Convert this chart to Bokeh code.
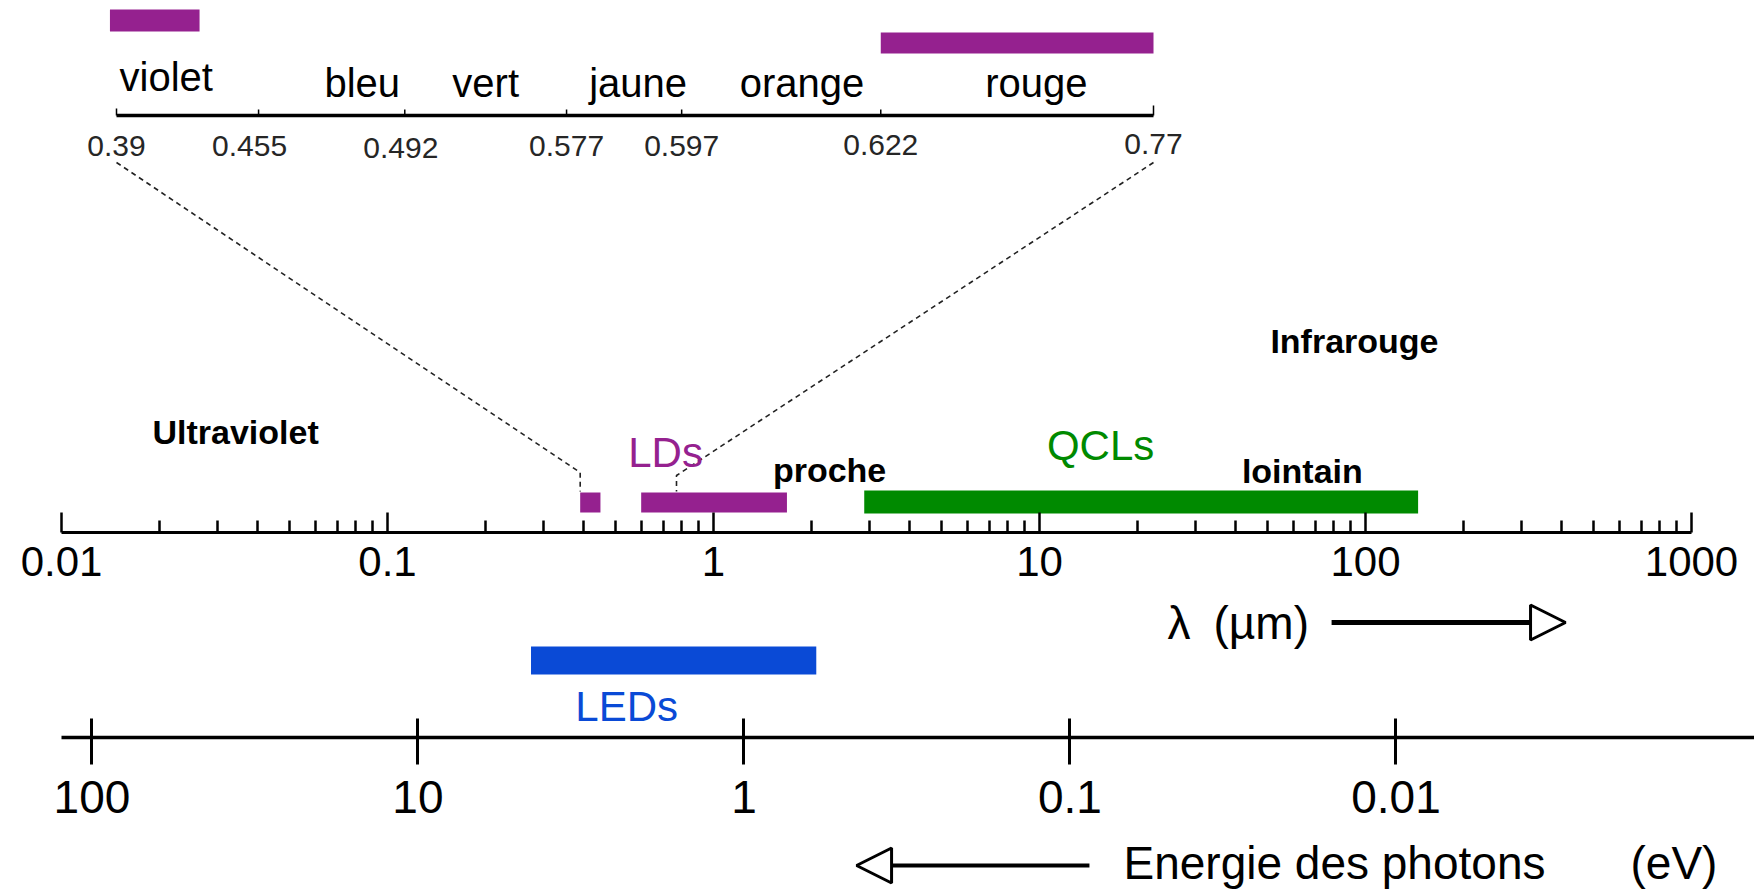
import math
from bokeh.plotting import figure
from bokeh.layouts import column
from bokeh.models import Range1d, LogScale, LinearScale, LogAxis, FixedTicker, Arrow, NormalHead
from bokeh.core.properties import value
from bokeh.embed import file_html
from bokeh.resources import INLINE

# ---------------- data ----------------
lam_ticks = [0.01, 0.1, 1, 10, 100, 1000]
lam_tick_labels = ["0.01", "0.1", "1", "10", "100", "1000"]
ev_ticks = [100, 10, 1, 0.1, 0.01]
ev_tick_labels = ["100", "10", "1", "0.1", "0.01"]
HC = 1.24  # eV * um

inset_ticks = [0.39, 0.455, 0.492, 0.577, 0.597, 0.622, 0.77]
inset_tick_labels = ["0.39", "0.455", "0.492", "0.577", "0.597", "0.622", "0.77"]
colour_names = ["violet", "bleu", "vert", "jaune", "orange", "rouge"]
inset_ld_lo = [0.387, 0.622]
inset_ld_hi = [0.428, 0.77]

ld_lo = [0.39, 0.60]
ld_hi = [0.45, 1.68]
qcl_lo = [2.9]
qcl_hi = [145]
led_ev_hi = [4.5]
led_ev_lo = [0.6]

region_names = ["Ultraviolet", "Infrarouge", "proche", "lointain"]

# ---------------- layout / style ----------------
PURPLE = "#95218F"
GREEN = "#008A00"
BLUE = "#0A4AD6"
FONT = value("Liberation Sans")

W = 1754
FRAME_L = 61          # px of lambda = 0.01
DEC = 326             # px per decade
INSET_L, INSET_R = 116, 1153   # px of the inset axis ends

inset_tick_pos = [0.0, 0.137, 0.278, 0.434, 0.545, 0.737, 1.0]
inset_label_dx = [0, -9, -4, 0, 0, 0, 0]
inset_label_dy = [0, 0, 2, 0, 0, -1, -2]
colour_label_pos = [0.048, 0.237, 0.356, 0.503, 0.661, 0.887]
colour_label_y = [456, 450, 450, 450, 450, 450]
inset_bar_bottom = [501, 479]
inset_bar_top = [523, 500]
region_x = [0.0342, 92.5, 2.27, 64]
region_y = [101, 192, 63, 62]

lam_end = 10 ** (-2 + (W - FRAME_L) / DEC)
LOG_SPAN = math.log10(lam_end / 0.01)


def inset_pos(lam):
    t, p = inset_ticks, inset_tick_pos
    if lam <= t[0]:
        i = 0
    elif lam >= t[-1]:
        i = len(t) - 2
    else:
        i = max(k for k in range(len(t) - 1) if t[k] <= lam)
    return p[i] + (lam - t[i]) * (p[i + 1] - p[i]) / (t[i + 1] - t[i])


inset_lo = -(INSET_L - FRAME_L) / (INSET_R - INSET_L)
inset_hi = inset_lo + (W - FRAME_L) / (INSET_R - INSET_L)


def lam_to_inset(lam):
    frac = (math.log10(lam) + 2) / LOG_SPAN
    return inset_lo + frac * (inset_hi - inset_lo)


def base_fig(height, bottom, frame_h):
    f = figure(width=W, height=height, x_axis_type="log", x_range=Range1d(0.01, lam_end),
               y_range=Range1d(0, frame_h), output_backend="svg", toolbar_location=None,
               min_border_left=FRAME_L, min_border_right=0, min_border_top=0,
               min_border_bottom=bottom, y_axis_location=None)
    f.grid.visible = False
    f.outline_line_color = None
    return f


# ---------------- figure A : inset + wavelength axis ----------------
A_FH = 532
A_BOT = 61
pA = base_fig(A_FH + A_BOT, A_BOT, A_FH)
pA.extra_x_ranges = {"inset": Range1d(inset_lo, inset_hi)}
pA.extra_x_scales = {"inset": LinearScale()}

# inset bars
pA.quad(left=[inset_pos(v) for v in inset_ld_lo], right=[inset_pos(v) for v in inset_ld_hi],
        bottom=inset_bar_bottom, top=inset_bar_top, fill_color=PURPLE, line_color=None,
        x_range_name="inset")
# inset axis
p0, p1 = inset_pos(inset_ticks[0]), inset_pos(inset_ticks[-1])
pA.segment(x0=[p0], y0=[417], x1=[p1], y1=[417], line_width=3.5, line_color="black",
           x_range_name="inset")
tick_top = [424] + [423] * (len(inset_ticks) - 2) + [427]
pA.segment(x0=[inset_pos(v) for v in inset_ticks], y0=[417] * len(inset_ticks),
           x1=[inset_pos(v) for v in inset_ticks], y1=tick_top, line_width=1.5,
           line_color="black", x_range_name="inset")
pA.text(x=[inset_pos(v) for v in inset_ticks], y=[387] * len(inset_ticks), text=inset_tick_labels,
        x_offset=inset_label_dx, y_offset=inset_label_dy,
        text_font=FONT, text_font_size="30px", text_color="#262626", text_align="center",
        text_baseline="middle", x_range_name="inset")
pA.text(x=colour_label_pos, y=colour_label_y, text=colour_names, text_font=FONT,
        text_font_size="40px", text_color="black", text_align="center",
        text_baseline="middle", x_range_name="inset")

# dashed zoom lines
xl = lam_to_inset(inset_ticks[0])
xr = lam_to_inset(inset_ticks[-1])
pA.multi_line(xs=[[p0, xl, xl], [p1, xr, xr]], ys=[[370, 60, 41], [370, 57, 41]],
              line_color="#222222", line_width=1.6, line_dash="5 4", x_range_name="inset")

# emitter bars
pA.quad(left=ld_lo, right=ld_hi, bottom=20, top=40, fill_color=PURPLE, line_color=None)
pA.quad(left=qcl_lo, right=qcl_hi, bottom=19, top=42, fill_color=GREEN, line_color=None)

pA.text(x=[0.713], y=[80], text=["LDs"], text_font=FONT, text_font_size="42px",
        text_color=PURPLE, text_align="center", text_baseline="middle")
pA.text(x=[15.4], y=[87], text=["QCLs"], text_font=FONT, text_font_size="42px",
        text_color=GREEN, text_align="center", text_baseline="middle")
pA.text(x=region_x, y=region_y, text=region_names, text_font=FONT, text_font_size="34px",
        text_font_style="bold", text_color="black", text_align="center",
        text_baseline="middle")

minor = [m * 10 ** k for k in range(-2, 3) for m in range(2, 10)]
ax = pA.xaxis[0]
ax.ticker = FixedTicker(ticks=lam_ticks, minor_ticks=minor)
ax.bounds = (lam_ticks[0], lam_ticks[-1])
ax.major_label_overrides = dict(zip(lam_ticks, lam_tick_labels))
ax.axis_line_width = 3
ax.axis_line_color = "black"
ax.major_tick_in = 20
ax.major_tick_out = 0
ax.minor_tick_in = 12
ax.minor_tick_out = 0
ax.major_tick_line_width = 2.5
ax.minor_tick_line_width = 2.5
ax.major_tick_line_color = "black"
ax.minor_tick_line_color = "black"
ax.major_label_text_font = "Liberation Sans"
ax.major_label_text_font_size = "42px"
ax.major_label_text_color = "black"
ax.major_label_standoff = 14

# ---------------- figure B : lambda label, LEDs, energy axis ----------------
B_FH = 737 - (A_FH + A_BOT)
B_BOT = 97
pB = base_fig(B_FH + B_BOT, B_BOT, B_FH)
pB.xaxis.visible = False
pB.extra_x_ranges = {"E": Range1d(HC / 0.01, HC / lam_end)}
pB.extra_x_scales = {"E": LogScale()}

pB.text(x=[24.7], y=[115], text=["λ\u2002(µm)"], text_font=FONT, text_font_size="46px",
        text_color="black", text_align="left", text_baseline="middle")
pB.add_layout(Arrow(end=NormalHead(size=35, fill_color="white", line_color="black", line_width=3),
                    x_start=78.7, y_start=115, x_end=410.8, y_end=115,
                    line_width=5, line_color="black"))
pB.quad(left=led_ev_hi, right=led_ev_lo, bottom=63, top=91, fill_color=BLUE, line_color=None,
        x_range_name="E")
pB.text(x=[2.29], y=[31], text=["LEDs"], text_font=FONT, text_font_size="42px",
        text_color=BLUE, text_align="center", text_baseline="middle", x_range_name="E")

eax = LogAxis(x_range_name="E", ticker=FixedTicker(ticks=ev_ticks, minor_ticks=[]))
eax.major_label_overrides = dict(zip(ev_ticks, ev_tick_labels))
eax.axis_line_width = 3.5
eax.axis_line_color = "black"
eax.major_tick_in = 19
eax.major_tick_out = 27
eax.major_tick_line_width = 3
eax.major_tick_line_color = "black"
eax.minor_tick_in = 0
eax.minor_tick_out = 0
eax.major_label_text_font = "Liberation Sans"
eax.major_label_text_font_size = "46px"
eax.major_label_text_color = "black"
eax.major_label_standoff = 16
pB.add_layout(eax, "below")

# ---------------- figure C : energy caption ----------------
C_H = 894 - (A_FH + A_BOT) - (B_FH + B_BOT)
pC = base_fig(C_H, 0, C_H)
pC.xaxis.visible = False
pC.add_layout(Arrow(end=NormalHead(size=35, fill_color="white", line_color="black", line_width=3),
                    x_start=14.23, y_start=29, x_end=2.747, y_end=29,
                    line_width=4, line_color="black"))
pC.text(x=[18.1, 650], y=[32, 32], text=["Energie des photons", "(eV)"], text_font=FONT,
        text_font_size="46px", text_color="black", text_align="left",
        text_baseline="middle")

layout = column(pA, pB, pC)
open("out.html", "w").write(file_html(layout, INLINE))
